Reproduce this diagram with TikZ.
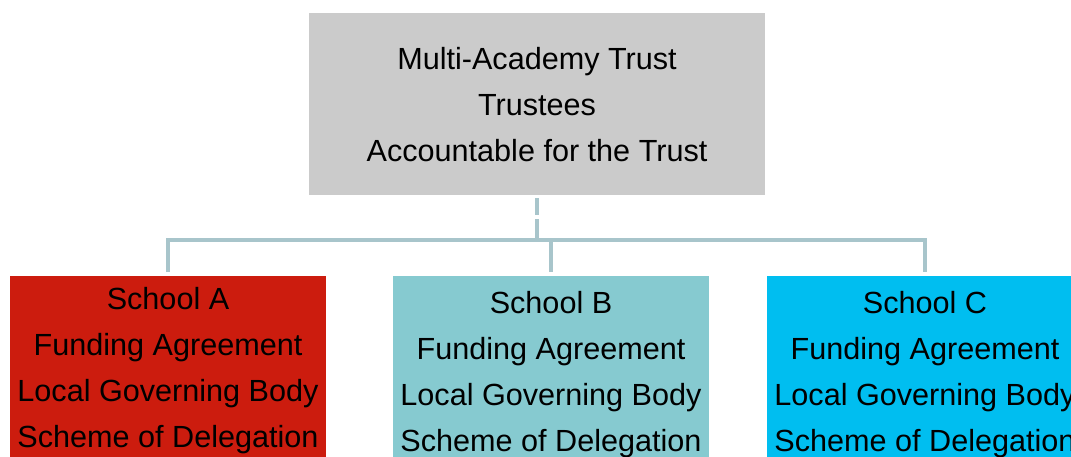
\documentclass[tikz,border=0pt]{standalone}
\usepackage{fontspec}
\setmainfont{Liberation Sans}
\usetikzlibrary{calc}
\definecolor{topgray}{HTML}{CBCBCB}
\definecolor{schoolred}{HTML}{CC1C0E}
\definecolor{schoolteal}{HTML}{86CAD0}
\definecolor{schoolcyan}{HTML}{00BEF0}
\definecolor{linkcol}{HTML}{A8C5CB}
\tikzset{
  box/.style={rectangle, draw=none, inner sep=0pt, minimum width=316pt, anchor=north},
  txt/.style={align=center, inner sep=0pt, anchor=north, font=\fontsize{30.6}{46}\selectfont, text=black},
  link/.style={draw=linkcol, line width=3.5pt}
}
\begin{document}
\begin{tikzpicture}[x=1pt,y=1pt]
\useasboundingbox (0,0) rectangle (1071,456);
\clip (0,0) rectangle (1071,456);
% top box
\node[box, fill=topgray, minimum width=456pt, minimum height=182pt] (mat) at (537,443) {};
\node[txt] (matt) at ($(mat.north)+(0,-34)$) {Multi-Academy Trust\\Trustees\\Accountable for the Trust};
% school boxes
\node[box, fill=schoolred, minimum height=200pt] (sa) at (168,180) {};
\node[box, fill=schoolteal, minimum height=200pt] (sb) at (551,180) {};
\node[box, fill=schoolcyan, minimum height=200pt] (sc) at (925,180) {};
\node[txt] (sat) at ($(sa.north)+(0,-11)$) {School A\\Funding Agreement\\Local Governing Body\\Scheme of Delegation};
\node[txt] (sbt) at ($(sb.north)+(0,-15)$) {School B\\Funding Agreement\\Local Governing Body\\Scheme of Delegation};
\node[txt] (sct) at ($(sc.north)+(0,-15)$) {School C\\Funding Agreement\\Local Governing Body\\Scheme of Delegation};
% connectors
\coordinate (jn) at (537,216);
\draw[link, dash pattern=on 17pt off 4pt on 60pt] ($(mat.south)+(0,-3)$) -- (jn);
\draw[link] ($(sa.north)+(0,4)$) -- (sa.north |- jn) -- (sc.north |- jn) -- ($(sc.north)+(0,4)$);
\draw[link] (sb.north |- jn) -- ($(sb.north)+(0,4)$);
\end{tikzpicture}
\end{document}
